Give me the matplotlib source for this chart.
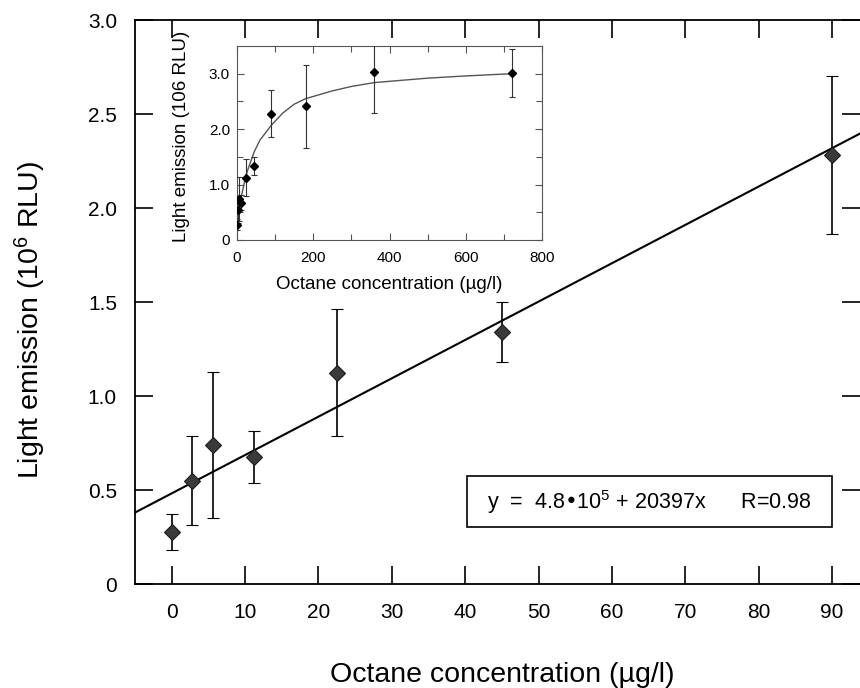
import matplotlib.pyplot as plt
from matplotlib.patches import Rectangle

plt.rcParams['font.family'] = ['Liberation Sans', 'DejaVu Sans']
plt.rcParams['mathtext.default'] = 'regular'

# main panel: octane dose series (10^6 RLU)
conc = [0, 2.8, 5.6, 11.25, 22.5, 45, 90]
light = [0.275, 0.55, 0.74, 0.675, 1.125, 1.34, 2.28]
light_err = [0.095, 0.235, 0.39, 0.14, 0.34, 0.16, 0.42]

# regression line end points
fit_x = [-5, 94]
fit_y = [0.38, 2.40]

# inset: full range incl. high concentrations
conc_full = conc + [180, 360, 720]
light_full = light + [2.41, 3.03, 3.01]
err_full = light_err + [0.75, 0.74, 0.43]

# saturation curve in the inset, read point by point
curve_x = [0, 2, 5, 10, 15, 22.5, 30, 45, 60, 90, 120, 150, 180, 250, 300, 360, 500, 600, 720]
curve_y = [0.30, 0.40, 0.54, 0.75, 0.90, 1.14, 1.30, 1.59, 1.80, 2.07, 2.29, 2.45, 2.55,
           2.69, 2.77, 2.84, 2.92, 2.96, 3.00]

main_xticks = [0, 10, 20, 30, 40, 50, 60, 70, 80, 90]
main_yticks = [0, 0.5, 1.0, 1.5, 2.0, 2.5, 3.0]
main_ylabels = ['0', '0.5', '1.0', '1.5', '2.0', '2.5', '3.0']
inset_xticks = [0, 200, 400, 600, 800]
inset_yticks = [0, 1, 2, 3]
inset_ylabels = ['0', '1.0', '2.0', '3.0']

fig = plt.figure(figsize=(8.6, 6.88), dpi=100)
ax = fig.add_axes([135 / 860, 104 / 688, 725 / 860, 564 / 688])

ax.plot(fit_x, fit_y, color='black', lw=1.5, zorder=2)
ax.errorbar(conc, light, yerr=light_err, fmt='D', ms=8.5, color='#3a3a3a', mec='#1e1e1e',
            mew=0.8, ecolor='black', elinewidth=1.2, capsize=4.5, capthick=1.2, zorder=3)

ax.set_xlim(-5, 93.8)
ax.set_ylim(0, 3.0)
ax.set_xticks(main_xticks)
ax.set_yticks(main_yticks)
ax.set_yticklabels(main_ylabels)
ax.spines['right'].set_visible(False)
for s in ['left', 'bottom', 'top']:
    ax.spines[s].set_linewidth(1.3)
ax.tick_params(direction='in', length=13, width=1.2, labelsize=15, top=True, right=True)
ax.tick_params(axis='x', pad=14)
ax.tick_params(axis='y', pad=13)
ax.set_xlabel('Octane concentration (\u00b5g/l)', fontsize=20.5)
ax.set_ylabel('Light emission (10$^6$ RLU)', fontsize=20.5)
ax.xaxis.set_label_coords(0.506, -0.138)
ax.yaxis.set_label_coords(-0.12, 0.468)

# equation box
ax.add_patch(Rectangle((0.458, 0.101), 0.503, 0.090, transform=ax.transAxes,
                       fill=False, ec='black', lw=1.2, zorder=4))
ax.text(0.71, 0.146, 'y  =  4.8\u202210$^5$ + 20397x      R=0.98', transform=ax.transAxes,
        fontsize=15.5, ha='center', va='center', zorder=4)

# inset
ins = fig.add_axes([237 / 860, 448 / 688, 305 / 860, 194 / 688])
ins.plot(curve_x, curve_y, color='#555555', lw=1.0, zorder=2)
ins.errorbar(conc_full, light_full, yerr=err_full, fmt='D', ms=4.5, color='black',
             ecolor='#333333', elinewidth=0.8, capsize=2, capthick=0.8, zorder=3)
ins.set_xlim(0, 800)
ins.set_ylim(0, 3.5)
ins.set_xticks(inset_xticks)
ins.set_xticks([100, 300, 500, 700], minor=True)
ins.set_yticks(inset_yticks)
ins.set_yticklabels(inset_ylabels)
ins.set_yticks([0.5, 1.5, 2.5], minor=True)
for s in ins.spines.values():
    s.set_linewidth(0.8)
    s.set_color('#555555')
ins.tick_params(which='both', direction='in', top=True, right=True, color='#555555')
ins.tick_params(which='major', length=5, width=0.8, labelsize=11)
ins.tick_params(which='minor', length=4, width=0.8)
ins.tick_params(axis='x', pad=8)
ins.tick_params(axis='y', pad=5)
ins.set_xlabel('Octane concentration (\u00b5g/l)', fontsize=13.5, labelpad=8)
ins.set_ylabel('Light emission (106 RLU)', fontsize=13.5)
ins.yaxis.set_label_coords(-0.155, 0.534)

fig.savefig('out.png', dpi=100)
